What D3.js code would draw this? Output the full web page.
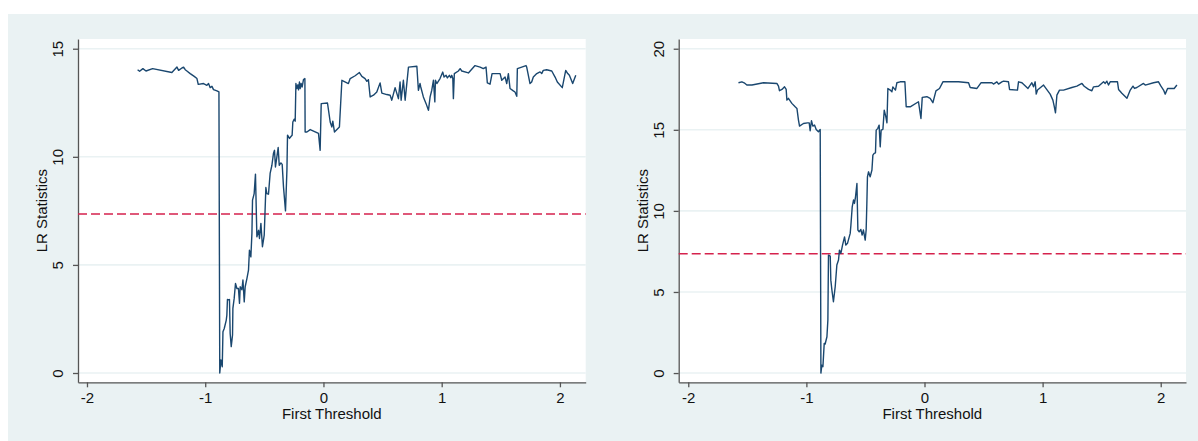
<!DOCTYPE html>
<meta charset="utf-8">
<script src="https://d3js.org/d3.v7.min.js"></script>
<style>
  body { margin: 0; background: #fff; }
  text { font-family: "Liberation Sans", Arial, sans-serif; fill: #111; }
</style>
<div id="chart"></div>
<script>
// ---- data ----
var criticalValue = 7.35;
var xTicks = [-2, -1, 0, 1, 2];
var leftYTicks = [0, 5, 10, 15];
var rightYTicks = [0, 5, 10, 15, 20];

// left panel: LR statistic against first threshold
var leftX = [-1.572, -1.555, -1.527, -1.501, -1.445, -1.282, -1.239, -1.225, -1.197, -1.183,
  -1.169, -1.155, -1.127, -1.093, -1.070, -1.059, -1.014, -0.986, -0.972, -0.958,
  -0.943, -0.930, -0.901, -0.884, -0.877, -0.867, -0.856, -0.850, -0.839, -0.822,
  -0.817, -0.812, -0.800, -0.795, -0.789, -0.780, -0.769, -0.766, -0.755, -0.744,
  -0.732, -0.719, -0.710, -0.704, -0.690, -0.681, -0.670, -0.662, -0.647, -0.634,
  -0.626, -0.614, -0.605, -0.600, -0.586, -0.575, -0.563, -0.549, -0.541, -0.529,
  -0.516, -0.501, -0.487, -0.479, -0.465, -0.451, -0.436, -0.423, -0.414, -0.406,
  -0.394, -0.383, -0.374, -0.360, -0.349, -0.338, -0.321, -0.309, -0.304, -0.287,
  -0.273, -0.265, -0.259, -0.248, -0.239, -0.233, -0.225, -0.216, -0.211, -0.203,
  -0.197, -0.189, -0.180, -0.169, -0.157, -0.155, -0.140, -0.112, -0.070, -0.042,
  -0.028, -0.019, 0.034, 0.057, 0.071, 0.079, 0.093, 0.135, 0.156, 0.211,
  0.226, 0.268, 0.304, 0.325, 0.352, 0.367, 0.380, 0.395, 0.423, 0.451,
  0.479, 0.494, 0.536, 0.564, 0.578, 0.606, 0.634, 0.648, 0.657, 0.676,
  0.691, 0.719, 0.790, 0.803, 0.817, 0.823, 0.845, 0.868, 0.888, 0.902,
  0.916, 0.930, 0.942, 0.947, 0.959, 0.986, 1.009, 1.020, 1.037, 1.048,
  1.065, 1.077, 1.085, 1.094, 1.099, 1.107, 1.141, 1.156, 1.170, 1.226,
  1.282, 1.325, 1.352, 1.375, 1.386, 1.409, 1.426, 1.494, 1.508, 1.536,
  1.550, 1.564, 1.578, 1.606, 1.620, 1.635, 1.640, 1.677, 1.713, 1.719,
  1.747, 1.761, 1.775, 1.804, 1.832, 1.846, 1.859, 1.888, 1.931, 1.959,
  1.978, 2.020, 2.049, 2.066, 2.080, 2.108, 2.134];
var leftY = [14.03, 13.96, 14.08, 13.97, 14.08, 13.90, 14.15, 14.00, 14.11, 14.15,
  14.03, 13.97, 13.85, 13.72, 13.62, 13.35, 13.39, 13.31, 13.39, 13.20,
  13.26, 13.11, 13.05, 13.00, 0.00, 0.60, 0.29, 1.91, 2.06, 2.45,
  2.68, 3.40, 3.38, 3.40, 1.83, 1.22, 1.76, 2.99, 3.45, 4.14,
  3.91, 3.91, 3.22, 3.99, 3.85, 4.30, 3.29, 3.99, 4.38, 4.76,
  5.68, 5.37, 6.46, 8.00, 8.30, 9.20, 6.30, 6.60, 6.22, 6.92,
  5.84, 6.38, 8.58, 8.30, 8.27, 9.23, 9.61, 10.15, 10.30, 9.53,
  10.00, 10.43, 9.61, 9.72, 9.65, 8.61, 7.50, 9.38, 11.00, 10.85,
  10.95, 11.00, 11.61, 11.74, 11.65, 13.39, 13.16, 13.33, 13.10, 13.46,
  13.16, 13.39, 13.23, 13.57, 13.62, 11.15, 11.15, 11.26, 11.15, 11.08,
  10.30, 12.46, 12.49, 11.61, 11.38, 11.65, 11.15, 11.38, 13.54, 13.39,
  13.62, 13.75, 13.90, 13.72, 13.62, 13.49, 13.57, 12.77, 12.85, 13.00,
  13.42, 12.95, 12.88, 12.85, 12.62, 13.20, 12.69, 13.46, 12.62, 13.54,
  12.62, 14.15, 14.19, 13.08, 13.39, 13.23, 12.77, 12.46, 12.15, 12.77,
  13.08, 13.54, 12.54, 13.54, 13.39, 13.62, 13.92, 13.69, 13.77, 13.65,
  13.77, 13.66, 13.77, 13.62, 12.69, 13.85, 13.97, 14.08, 13.97, 13.88,
  14.22, 14.15, 14.08, 14.15, 13.42, 13.36, 13.85, 13.85, 13.54, 13.69,
  13.39, 13.85, 13.16, 13.05, 13.00, 12.80, 14.08, 14.15, 14.22, 14.15,
  13.39, 13.46, 13.69, 13.85, 13.93, 13.85, 14.00, 14.03, 13.97, 13.69,
  13.46, 13.20, 14.00, 13.85, 13.77, 13.39, 13.77];

// right panel
var rightX = [-1.575, -1.546, -1.527, -1.504, -1.461, -1.363, -1.250, -1.236, -1.228, -1.207,
  -1.185, -1.171, -1.165, -1.152, -1.123, -1.095, -1.080, -1.067, -1.058, -1.025,
  -0.991, -0.976, -0.968, -0.957, -0.945, -0.931, -0.917, -0.898, -0.883, -0.877,
  -0.869, -0.860, -0.849, -0.841, -0.826, -0.818, -0.813, -0.798, -0.793, -0.784,
  -0.771, -0.756, -0.742, -0.728, -0.720, -0.708, -0.694, -0.677, -0.666, -0.652,
  -0.629, -0.623, -0.612, -0.601, -0.593, -0.584, -0.572, -0.564, -0.553, -0.539,
  -0.528, -0.517, -0.502, -0.494, -0.488, -0.483, -0.474, -0.460, -0.445, -0.437,
  -0.426, -0.415, -0.409, -0.395, -0.384, -0.375, -0.367, -0.352, -0.341, -0.327,
  -0.318, -0.310, -0.290, -0.276, -0.268, -0.246, -0.234, -0.206, -0.166, -0.155,
  -0.121, -0.051, -0.030, -0.019, 0.020, 0.048, 0.071, 0.097, 0.127, 0.156,
  0.288, 0.373, 0.387, 0.444, 0.478, 0.571, 0.584, 0.613, 0.627, 0.655,
  0.669, 0.711, 0.720, 0.787, 0.796, 0.825, 0.876, 0.895, 0.909, 0.923,
  0.937, 0.946, 0.957, 1.008, 1.064, 1.087, 1.098, 1.109, 1.121, 1.143,
  1.177, 1.248, 1.290, 1.333, 1.352, 1.389, 1.417, 1.431, 1.473, 1.516,
  1.530, 1.544, 1.558, 1.572, 1.634, 1.643, 1.671, 1.714, 1.742, 1.765,
  1.778, 1.798, 1.854, 1.869, 1.939, 1.981, 2.002, 2.024, 2.038, 2.058,
  2.114, 2.137];
var rightY = [17.90, 17.96, 17.90, 17.76, 17.76, 17.90, 17.86, 17.69, 17.41, 17.49,
  17.65, 17.49, 16.83, 16.94, 16.63, 16.42, 16.32, 15.60, 15.23, 15.39,
  15.43, 15.43, 14.94, 15.56, 15.23, 15.29, 15.02, 14.88, 15.02, 0.00,
  0.49, 0.39, 1.83, 1.79, 2.24, 3.27, 7.27, 7.21, 5.73, 5.12,
  4.40, 5.32, 6.66, 6.97, 7.58, 7.38, 7.89, 8.40, 7.89, 8.00,
  8.61, 9.12, 10.25, 10.67, 10.46, 10.87, 11.69, 8.82, 8.71, 8.86,
  8.51, 8.82, 8.20, 8.82, 10.46, 12.10, 12.41, 12.10, 12.52, 13.44,
  13.55, 13.58, 14.98, 15.09, 15.29, 13.95, 14.98, 15.03, 16.21, 15.80,
  15.43, 17.55, 17.45, 17.34, 17.65, 17.45, 17.90, 17.96, 17.96, 16.42,
  16.42, 16.73, 15.70, 17.00, 17.04, 16.94, 16.67, 17.40, 17.55, 17.96,
  17.96, 17.90, 17.61, 17.55, 17.90, 17.90, 17.82, 17.96, 17.82, 17.96,
  18.00, 17.96, 17.49, 17.45, 17.96, 17.90, 17.55, 17.76, 17.90, 17.65,
  17.96, 17.20, 17.45, 17.76, 17.20, 16.83, 16.46, 16.05, 17.14, 17.45,
  17.45, 17.61, 17.69, 17.86, 17.69, 17.49, 17.41, 17.65, 17.69, 17.96,
  17.86, 18.00, 17.76, 17.96, 17.96, 17.49, 17.25, 16.94, 17.45, 17.69,
  17.55, 17.61, 17.86, 17.76, 17.90, 17.96, 17.69, 17.45, 17.20, 17.55,
  17.55, 17.76];

// ---- drawing ----
var W = 1198, H = 441;
var svg = d3.select("#chart").append("svg")
    .attr("width", W)
    .attr("height", H);

// outer graph region (stata-like light blue grey)
svg.append("rect")
    .attr("x", 8).attr("y", 14)
    .attr("width", W - 8).attr("height", H - 14)
    .attr("fill", "#eaf2f3");

function panel(opts) {
  var x = d3.scaleLinear().domain(opts.xDomain).range([opts.left, opts.right]);
  var y = d3.scaleLinear().domain(opts.yDomain).range([opts.bottom, opts.top]);

  // plot region
  svg.append("rect")
      .attr("x", opts.left).attr("y", opts.top)
      .attr("width", opts.right - opts.left)
      .attr("height", opts.bottom - opts.top)
      .attr("fill", "#fff");

  // grid lines
  svg.append("g").selectAll("line")
      .data(opts.yTicks)
    .enter().append("line")
      .attr("x1", opts.left).attr("x2", opts.right)
      .attr("y1", function(d) { return y(d); })
      .attr("y2", function(d) { return y(d); })
      .attr("stroke", "#eaf2f3")
      .attr("stroke-width", 1.6);

  // y axis
  var gy = svg.append("g")
      .attr("transform", "translate(" + opts.left + ",0)")
      .call(d3.axisLeft(y).tickValues(opts.yTicks).tickSize(5).tickSizeOuter(0));
  gy.select(".domain").attr("stroke", "#555").attr("stroke-width", 1.3);
  gy.selectAll(".tick line").attr("stroke", "#555").attr("stroke-width", 1.3);
  gy.selectAll(".tick text")
      .attr("x", null).attr("dy", null)
      .attr("text-anchor", "middle")
      .attr("transform", "translate(-15,0) rotate(-90)")
      .style("font-size", "15px")
      .style("font-family", "'Liberation Sans', Arial, sans-serif")
      .attr("fill", "#111");

  // x axis
  var gx = svg.append("g")
      .attr("transform", "translate(0," + opts.bottom + ")")
      .call(d3.axisBottom(x).tickValues(xTicks).tickSize(5).tickSizeOuter(0)
        .tickFormat(d3.format("d")));
  gx.select(".domain").attr("stroke", "#555").attr("stroke-width", 1.3);
  gx.selectAll(".tick line").attr("stroke", "#555").attr("stroke-width", 1.3);
  gx.selectAll(".tick text")
      .attr("y", 21).attr("dy", null)
      .style("font-size", "15px")
      .style("font-family", "'Liberation Sans', Arial, sans-serif")
      .attr("fill", "#111")
      .text(function(d) { return d < 0 ? "-" + Math.abs(d) : d; });

  // axis titles
  svg.append("text")
      .attr("transform", "translate(" + (opts.left - 31) + "," + ((opts.top + opts.bottom) / 2) + ") rotate(-90)")
      .attr("text-anchor", "middle")
      .style("font-size", "15px")
      .text("LR Statistics");
  svg.append("text")
      .attr("x", (opts.left + opts.right) / 2)
      .attr("y", opts.bottom + 37)
      .attr("text-anchor", "middle")
      .style("font-size", "15px")
      .text("First Threshold");

  // critical value line
  svg.append("line")
      .attr("x1", opts.left).attr("x2", opts.right)
      .attr("y1", y(criticalValue)).attr("y2", y(criticalValue))
      .attr("stroke", "#d5224d")
      .attr("stroke-width", 1.5)
      .attr("stroke-dasharray", "9,4");

  // LR curve
  var pts = d3.zip(opts.xs, opts.ys);
  svg.append("path")
      .datum(pts)
      .attr("d", d3.line()
        .x(function(d) { return x(d[0]); })
        .y(function(d) { return y(d[1]); }))
      .attr("fill", "none")
      .attr("stroke", "#1a476f")
      .attr("stroke-width", 1.4)
      .attr("stroke-linejoin", "round");
}

panel({
  left: 78, right: 585.7, top: 39, bottom: 382.3,
  xDomain: [-2.076, 2.218], yDomain: [-0.43, 15.45],
  yTicks: leftYTicks, xs: leftX, ys: leftY
});

panel({
  left: 678.7, right: 1186, top: 39, bottom: 382.3,
  xDomain: [-2.081, 2.214], yDomain: [-0.57, 20.6],
  yTicks: rightYTicks, xs: rightX, ys: rightY
});
</script>
